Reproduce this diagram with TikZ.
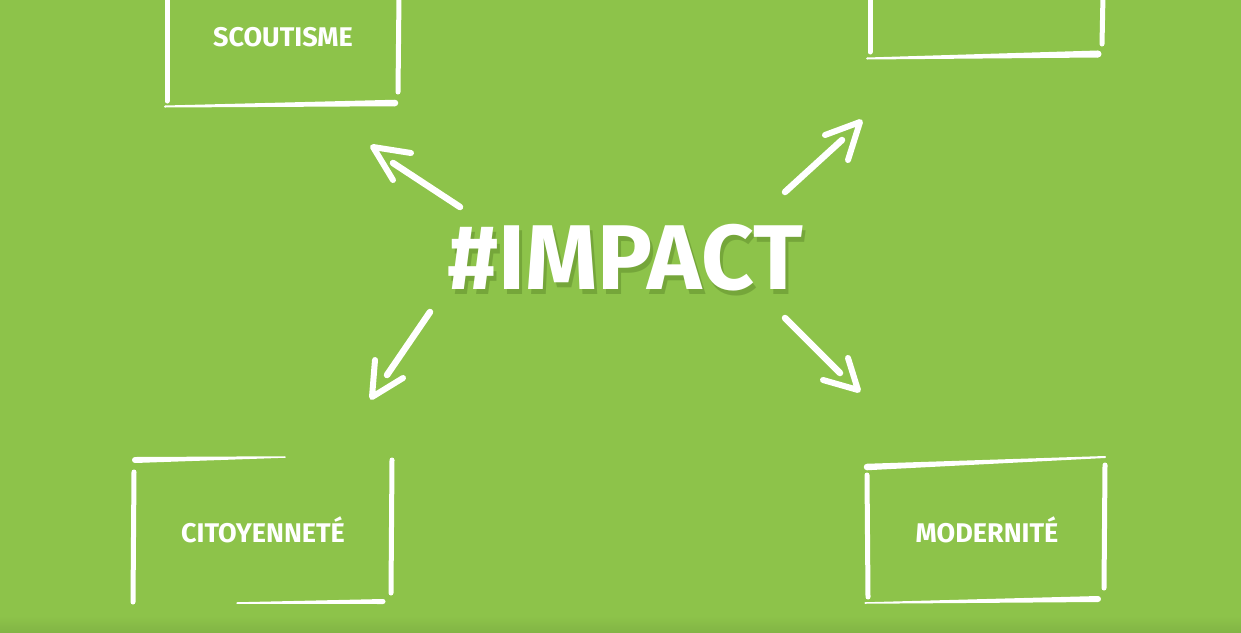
\documentclass[tikz,border=0pt]{standalone}
\usepackage{fontspec}
\setmainfont{Fira Sans}
\definecolor{bg}{HTML}{8DC34A}
\definecolor{bgdark}{HTML}{82B545}
\definecolor{shadowgreen}{HTML}{5E8A2C}
\newcommand\hstroke[6]{%
  \fill[white] (#1,{#2-#5/2}) -- (#3,{#4-#6/2}) -- (#3,{#4+#6/2}) -- (#1,{#2+#5/2}) -- cycle;
  \fill[white] (#1,#2) circle ({#5/2});
  \fill[white] (#3,#4) circle ({#6/2});}
\begin{document}
\begin{tikzpicture}[x=1pt,y=-1pt,
  stroke/.style={white, line width=5pt, line cap=round},
  shaft/.style={white, line width=6.5pt, line cap=round},
  head/.style={white, line width=6pt, line cap=round, line join=round},
  boxlabel/.style={text=white, font=\bfseries\fontsize{27}{30}\selectfont, inner sep=0pt},
  title/.style={font=\bfseries\fontsize{92}{100}\selectfont, inner sep=0pt}]
\fill[bg] (0,0) rectangle (1241,632);
\useasboundingbox (0,0) rectangle (1241,632);
\shade[top color=bg, bottom color=bgdark] (0,616) rectangle (1241,632);

% SCOUTISME box
\draw[stroke] (167,-5) -- (167,101);
\draw[stroke] (399,-5) -- (398,92);
\hstroke{165}{106.5}{395}{103}{2}{6.5}
\node[boxlabel] (scout) at (283,37) {SCOUTISME};

% top-right box
\draw[stroke] (870,-5) -- (870,52);
\draw[stroke] (1103,-5) -- (1102,44);
\hstroke{867}{58.5}{1098}{54}{2}{7}

% CITOYENNETE box
\hstroke{135}{460}{285}{457}{6}{1.5}
\draw[stroke] (134,472) -- (133,602);
\draw[stroke] (392,460) -- (391,593);
\hstroke{237}{603}{383}{601.5}{1.5}{5}
\node[boxlabel] (citoy) at (263,530) {CITOYENNETÉ};

% MODERNITE box
\hstroke{867}{467}{1105}{457}{6.5}{2}
\draw[stroke] (867,475) -- (868,597);
\draw[stroke] (1105,465) -- (1104,588);
\hstroke{865}{603}{1098}{599}{1.5}{6}
\node[boxlabel] (modern) at (987,530) {MODERNITÉ};

% title
\node[title, text=shadowgreen, opacity=0.5] (impactshadow) at (628,263) {\#IMPACT};
\node[title, text=white] (impact) at (625,258) {\#IMPACT};

% arrows
\coordinate (nwT) at (460,207); \coordinate (nwE) at (393,163);
\coordinate (nwTip) at (373,147); \coordinate (nwA) at (411,153); \coordinate (nwB) at (393,180);
\coordinate (neT) at (785,192); \coordinate (neE) at (842,140);
\coordinate (neTip) at (860,122); \coordinate (neA) at (825,135); \coordinate (neB) at (848,160);
\coordinate (swT) at (430,312); \coordinate (swE) at (387,375);
\coordinate (swTip) at (372,397); \coordinate (swA) at (375,360); \coordinate (swB) at (403,378);
\coordinate (seT) at (785,318); \coordinate (seE) at (840,373);
\coordinate (seTip) at (858,390); \coordinate (seA) at (848,358); \coordinate (seB) at (823,380);

\draw[shaft] (nwT) -- (nwE);
\draw[head] (nwA) -- (nwTip) -- (nwB);
\draw[shaft] (neT) -- (neE);
\draw[head] (neA) -- (neTip) -- (neB);
\draw[shaft] (swT) -- (swE);
\draw[head] (swA) -- (swTip) -- (swB);
\draw[shaft] (seT) -- (seE);
\draw[head] (seA) -- (seTip) -- (seB);
\end{tikzpicture}
\end{document}
